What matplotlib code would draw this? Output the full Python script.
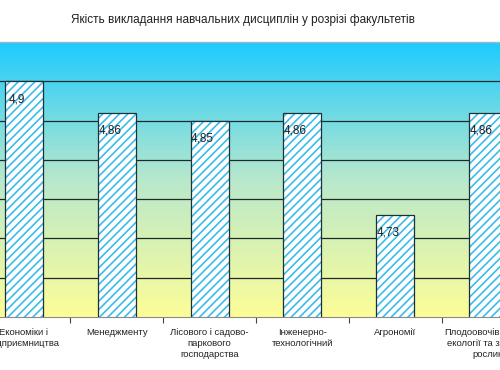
import numpy as np
import matplotlib
matplotlib.use("Agg")
import matplotlib.pyplot as plt
from matplotlib.colors import LinearSegmentedColormap

# faculties and mean scores
faculties = [
    "Економіки і\nпідприємництва",
    "Менеджменту",
    "Лісового і садово-\nпаркового\nгосподарства",
    "Інженерно-\nтехнологічний",
    "Агрономії",
    "Плодоовочівництва,\nекології та захисту\nрослин",
]
scores = [4.9, 4.86, 4.85, 4.86, 4.73, 4.86]
grid_levels = [4.65, 4.7, 4.75, 4.8, 4.85, 4.9]

title = "Якість викладання навчальних дисциплін у розрізі факультетів"

plt.rcParams["font.family"] = ["Liberation Sans", "DejaVu Sans"]
plt.rcParams["hatch.linewidth"] = 1.2

fig = plt.figure(figsize=(5, 3.7), dpi=100)
ax = fig.add_axes([-22.4 / 500, 53 / 370, 556.8 / 500, 275 / 370])

# background gradient, cyan on top to pale yellow at the bottom
cmap = LinearSegmentedColormap.from_list("bg", ["#fdfd98", "#b8e8cc", "#1ecbff"])
grad = np.linspace(0, 1, 256).reshape(-1, 1)
ax.imshow(grad, cmap=cmap, aspect="auto", origin="lower",
          extent=(0, 1, 0, 1), transform=ax.transAxes, zorder=0)

for g in grid_levels:
    ax.axhline(g, color="#1c2a2c", lw=0.9, zorder=1)

x = np.arange(len(faculties))
# hatch takes the edge colour, so hatch and outline are drawn separately
ax.bar(x, scores, width=0.41, bottom=0, color="white",
       edgecolor="#3cbcea", linewidth=0, hatch="////", zorder=2)
ax.bar(x, scores, width=0.41, bottom=0, color="none",
       edgecolor="#1c3038", linewidth=0.9, zorder=2.5)

for xi, v in zip(x, scores):
    lbl = f"{v:g}".replace(".", ",")
    ax.annotate(lbl, (xi, v), xytext=(-5, -13), textcoords="offset points",
                ha="center", va="center", fontsize=8.5, color="#222222",
                zorder=3)

ax.set_xlim(-0.5, len(faculties) - 0.5)
ax.set_ylim(4.6, 4.95)

ax.set_yticks([])
ax.set_xticks(np.arange(len(faculties) + 1) - 0.5, minor=True)
ax.set_xticks(x)
ax.set_xticklabels(faculties, fontsize=6.8, color="#222222", linespacing=1.25)
ax.tick_params(axis="x", which="major", length=0, pad=8)
ax.tick_params(axis="x", which="minor", length=4, color="#444444", width=0.8)

for s in ["left", "right"]:
    ax.spines[s].set_visible(False)
ax.spines["top"].set_color("#9fb8c4")
ax.spines["top"].set_linewidth(1.0)
ax.spines["bottom"].set_color("#8a8a8a")
ax.spines["bottom"].set_linewidth(0.8)

fig.text(243 / 500, 1 - 20 / 370, title, ha="center", va="center",
         fontsize=8.5, color="#222222")

fig.savefig("out.png", dpi=100)
